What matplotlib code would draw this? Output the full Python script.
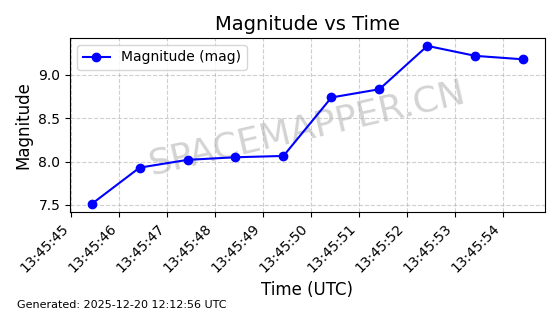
import datetime
import matplotlib
matplotlib.use('Agg')
import matplotlib.pyplot as plt
import matplotlib.dates as mdates

# 
# data
# 
t0 = datetime.datetime(2025, 12, 20, 13, 45, 45, 430000)
offsets_s = [0, 1, 2, 3, 4, 5, 6, 7, 8, 9]
magnitude = [7.51, 7.93, 8.02, 8.05, 8.065, 8.74, 8.835, 9.335, 9.22, 9.18]
times = [t0 + datetime.timedelta(seconds=s) for s in offsets_s]

title = 'Magnitude vs Time'
xlabel = 'Time (UTC)'
ylabel = 'Magnitude'
series_label = 'Magnitude (mag)'
watermark = 'SPACEMAPPER.CN'
footer = 'Generated: 2025-12-20 12:12:56 UTC'

# 
# plot
# 
fig = plt.figure(figsize=(5.6, 3.14), dpi=100)
ax = fig.add_subplot(111)
fig.subplots_adjust(left=0.125, right=0.973, top=0.879, bottom=0.325)

ax.plot(times, magnitude, color='blue', marker='o', ms=6, lw=1.5, label=series_label)
ax.grid(True, linestyle='--', color='#b0b0b0', alpha=0.6)
ax.set_title(title, fontsize=14)
ax.set_xlabel(xlabel, fontsize=12)
ax.set_ylabel(ylabel, fontsize=12)
ax.legend(loc='upper left')

ax.xaxis.set_major_locator(mdates.SecondLocator(interval=1))
ax.xaxis.set_major_formatter(mdates.DateFormatter('%H:%M:%S'))
for lbl in ax.get_xticklabels():
    lbl.set_rotation(45)
    lbl.set_ha('right')

ax.text(0.5, 0.48, watermark, transform=ax.transAxes, fontsize=26, color='gray',
        alpha=0.35, rotation=13, ha='center', va='center', zorder=0)

fig.text(0.03, 0.02, footer, fontsize=8)

fig.savefig('out.png', dpi=100)
